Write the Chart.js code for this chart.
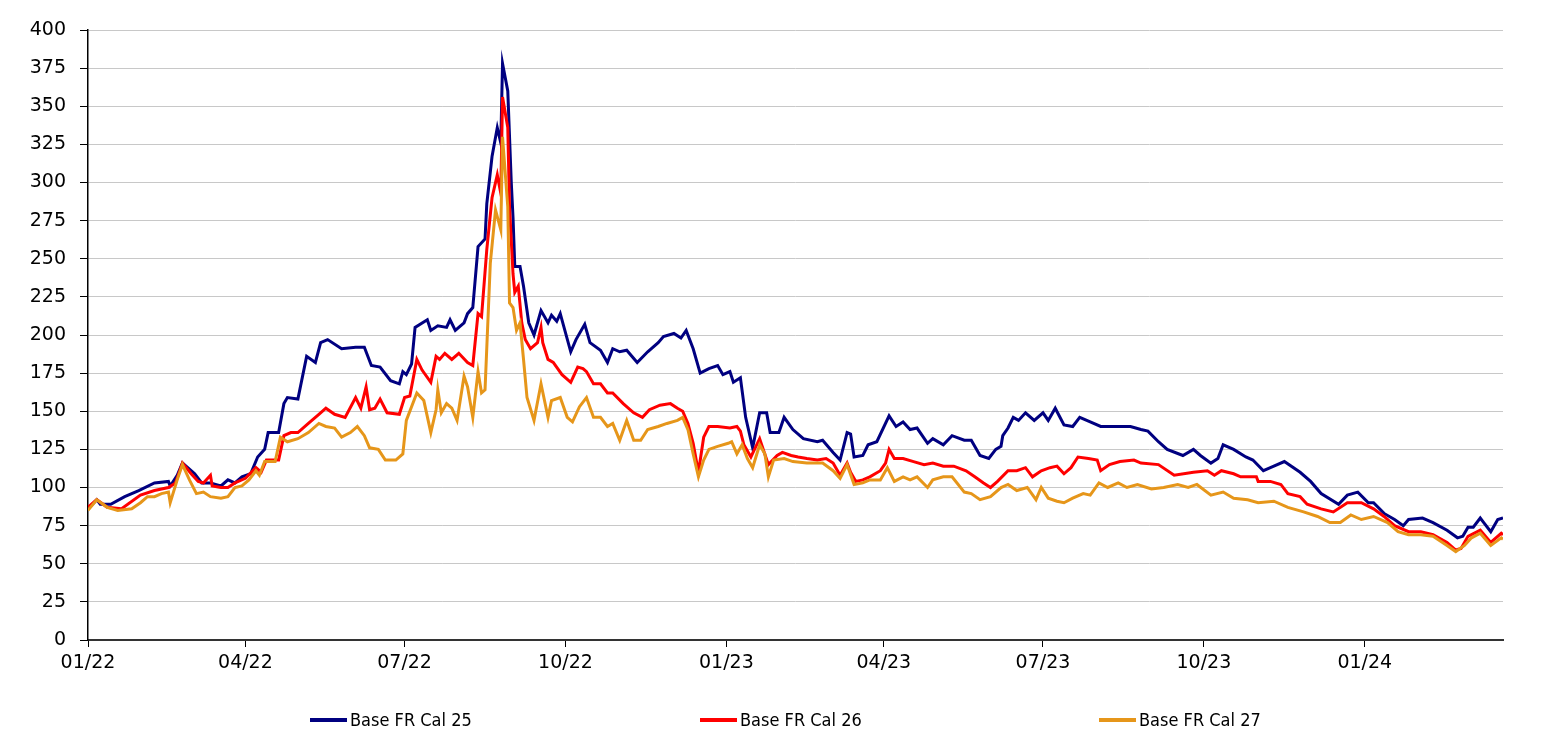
<!DOCTYPE html>
<html><head><meta charset="utf-8">
<script src="https://cdn.jsdelivr.net/npm/chart.js@4/dist/chart.umd.min.js"></script>
<style>
html,body{margin:0;padding:0;background:#fff;}
#wrap{position:relative;width:1565px;height:730px;overflow:hidden;}
#c{position:absolute;left:0;top:0;}
.leg{position:absolute;top:709px;font-family:"DejaVu Sans Condensed","DejaVu Sans",sans-serif;font-size:18px;color:#000;line-height:21px;white-space:nowrap;}
.leg i{position:absolute;left:-40px;top:9px;width:37px;height:4px;display:block;}
</style></head>
<body>
<div id="wrap"><canvas id="c" width="1565" height="730"></canvas><div id="legend"></div></div>
<script>
// Series names and colours
const seriesNames = ['Base FR Cal 25', 'Base FR Cal 26', 'Base FR Cal 27'];
const seriesColors = ['#000080', '#ff0000', '#e6961a'];

// x values: days since 1 Jan 2022
const cal25Days = [0,5,7,13,21,29,38,46,47,51,54,58,61,65,70,76,80,84,88,93,
 97,101,103,109,112,114,120,125,130,133,137,145,153,158,162,167,173,178,180,182,
 185,187,194,196,200,205,207,210,215,217,220,223,227,228,231,234,236,237,240,242,
 243,244,247,249,252,255,259,263,265,268,270,276,279,284,287,293,297,300,304,308,
 314,320,326,329,335,339,342,346,350,355,360,363,367,369,373,376,380,384,388,390,
 395,398,403,409,417,420,426,430,434,436,438,443,446,451,458,462,466,470,474,480,
 483,489,494,501,505,510,515,519,522,523,526,529,532,536,541,546,549,553,558,563,
 567,573,579,589,596,602,606,612,617,626,632,636,642,646,649,655,662,666,672,676,
 684,693,699,705,715,720,726,732,735,741,747,752,755,763,769,777,783,786,789,792,
 796,798,802,806,809];
const cal25Values = [86,92,89,89,94,98,103,104,101,108,116,112,109,103,103,101,105,103,107,109,
 120,125,136,136,155,159,158,186,182,195,197,191,192,192,180,179,170,168,176,174,
 181,205,210,203,206,205,210,203,208,214,218,258,263,286,317,336,326,378,360,300,
 277,245,245,232,208,200,216,208,213,209,214,189,197,207,195,190,182,191,189,190,
 182,189,195,199,201,198,203,191,175,178,180,174,176,169,172,146,126,149,149,136,
 136,146,138,132,130,131,123,118,136,135,120,121,128,130,147,140,143,138,139,129,
 132,128,134,131,131,121,119,125,127,134,139,146,144,149,144,149,144,152,141,140,
 146,143,140,140,140,138,137,130,125,121,125,121,116,119,128,125,120,118,111,113,
 117,110,104,96,89,95,97,90,90,83,79,75,79,80,77,72,67,68,74,74,
 80,77,71,79,80];

const cal26Days = [0,5,11,19,30,38,46,50,54,59,63,66,70,71,76,80,84,90,96,99,
 102,109,112,116,120,126,132,136,141,147,153,156,159,161,164,167,171,178,181,184,
 188,191,196,199,201,204,208,212,217,220,223,225,228,231,234,236,237,240,241,243,
 244,246,248,250,253,257,259,260,263,266,271,276,280,283,285,289,293,297,300,306,
 312,317,321,327,333,337,340,343,346,349,352,355,360,367,371,373,375,379,384,389,
 394,397,402,406,411,417,422,426,430,434,436,439,443,447,453,456,458,461,466,472,
 478,483,489,495,502,507,512,516,520,526,531,536,540,545,550,554,558,562,566,572,
 577,579,584,590,598,602,612,621,632,640,644,648,655,659,668,669,676,682,686,693,
 697,705,712,720,728,735,741,747,755,762,769,777,782,785,789,796,802,808,809];
const cal26Values = [87,92,87,86,95,98,100,103,116,109,104,103,108,101,100,100,103,106,113,110,
 118,118,134,136,136,142,148,152,148,146,159,152,166,151,152,158,149,148,159,160,
 184,177,169,186,184,188,184,188,182,180,214,212,256,290,305,293,356,336,284,240,
 228,232,208,197,191,195,205,195,184,182,174,169,179,178,176,168,168,162,162,155,
 149,146,151,154,155,152,150,142,129,110,133,140,140,139,140,137,128,120,132,115,
 121,123,121,120,119,118,119,116,108,116,110,104,105,107,111,116,125,119,119,117,
 115,116,114,114,111,107,103,100,104,111,111,113,107,111,113,114,109,113,120,119,
 118,111,115,117,118,116,115,108,110,111,108,111,109,107,107,104,104,102,96,94,
 89,86,84,90,90,86,81,75,71,71,69,64,59,60,68,72,64,70,69];

const cal27Days = [0,5,11,17,25,30,34,38,42,46,47,51,54,58,62,66,70,76,80,84,
 88,92,96,98,101,107,110,114,120,126,132,136,141,145,150,154,158,161,166,170,
 176,180,182,188,192,196,199,200,202,205,208,211,215,217,220,223,225,227,230,233,
 236,237,240,241,243,245,247,249,251,255,259,263,265,270,274,277,281,285,289,293,
 297,300,304,308,312,316,320,326,331,337,340,343,346,349,352,355,360,366,368,371,
 374,377,380,384,387,389,392,398,403,411,420,426,430,434,438,443,447,453,457,461,
 466,470,474,480,483,489,494,501,505,510,516,522,526,531,537,542,545,549,554,558,
 563,569,573,578,583,589,594,600,608,615,623,629,634,642,649,655,663,669,678,686,
 695,703,710,716,722,728,735,743,749,755,762,769,777,782,787,791,796,802,808,809];
const cal27Values = [85,92,87,85,86,90,94,94,96,97,90,105,115,105,96,97,94,93,94,100,
 101,105,111,108,117,117,133,130,132,136,142,140,139,133,136,140,134,126,125,118,
 118,122,144,162,157,136,151,164,149,155,152,144,173,166,146,176,162,164,247,282,
 269,330,284,221,218,203,208,184,159,144,168,146,157,159,146,143,153,159,146,146,
 140,142,131,144,131,131,138,140,142,144,146,138,122,107,118,125,127,129,130,122,
 128,119,113,128,122,107,118,119,117,116,116,111,106,115,102,103,105,105,113,104,
 107,105,107,100,105,107,107,97,96,92,94,100,102,98,100,92,100,93,91,90,
 93,96,95,103,100,103,100,102,99,100,102,100,102,95,97,93,92,90,91,87,
 84,81,77,77,82,79,81,77,71,69,69,68,62,58,62,67,70,62,67,66];

// Axis ticks
const xTickDays = [0, 90, 181, 273, 365, 455, 546, 638, 730];
const xTickLabels = ['01/22', '04/22', '07/22', '10/22', '01/23', '04/23', '07/23', '10/23', '01/24'];
const xMin = 0, xMax = 809;
const yMin = 0, yMax = 400, yStep = 25;

const seriesDays = [cal25Days, cal26Days, cal27Days];
const seriesValues = [cal25Values, cal26Values, cal27Values];
const drawOrder = [2, 1, 0];

const tickFont = {family: 'DejaVu Sans', size: 19};

const datasets = seriesNames.map((name, k) => ({
  label: name,
  data: seriesDays[k].map((d, i) => ({x: d, y: seriesValues[k][i]})),
  borderColor: seriesColors[k],
  backgroundColor: seriesColors[k],
  borderWidth: 3,
  pointRadius: 0,
  tension: 0,
  fill: false,
  order: drawOrder[k]
}));

new Chart(document.getElementById('c').getContext('2d'), {
  type: 'line',
  data: {datasets},
  options: {
    responsive: false,
    animation: false,
    layout: {padding: {left: 0, right: 62, top: 30, bottom: 0}},
    plugins: {legend: {display: false}, tooltip: {enabled: false}},
    scales: {
      x: {
        type: 'linear', min: xMin, max: xMax,
        afterBuildTicks: (s) => { s.ticks = xTickDays.map(v => ({value: v})); },
        afterFit: (s) => { s.height = 90; },
        grid: {display: true, drawOnChartArea: false, tickLength: 7, tickColor: '#000', color: '#000', tickWidth: 1},
        border: {display: true, color: '#333', width: 2},
        ticks: {
          autoSkip: false, maxRotation: 0, minRotation: 0, padding: 5, color: '#000', font: tickFont,
          callback: (v) => { const i = xTickDays.indexOf(v); return i >= 0 ? xTickLabels[i] : ''; }
        }
      },
      y: {
        min: yMin, max: yMax,
        afterFit: (s) => { s.width = 88; },
        grid: {color: '#c8c8c8', lineWidth: 1, tickLength: 8, tickColor: '#000'},
        border: {display: true, color: '#000', width: 1.5},
        ticks: {stepSize: yStep, padding: 14, color: '#000', font: tickFont}
      }
    }
  }
});

// Legend
const legendX = [350, 740, 1139];
const legend = document.getElementById('legend');
seriesNames.forEach((name, k) => {
  const d = document.createElement('div');
  d.className = 'leg';
  d.style.left = legendX[k] + 'px';
  const line = document.createElement('i');
  line.style.background = seriesColors[k];
  d.appendChild(line);
  d.appendChild(document.createTextNode(name));
  legend.appendChild(d);
});
</script>
</body></html>
